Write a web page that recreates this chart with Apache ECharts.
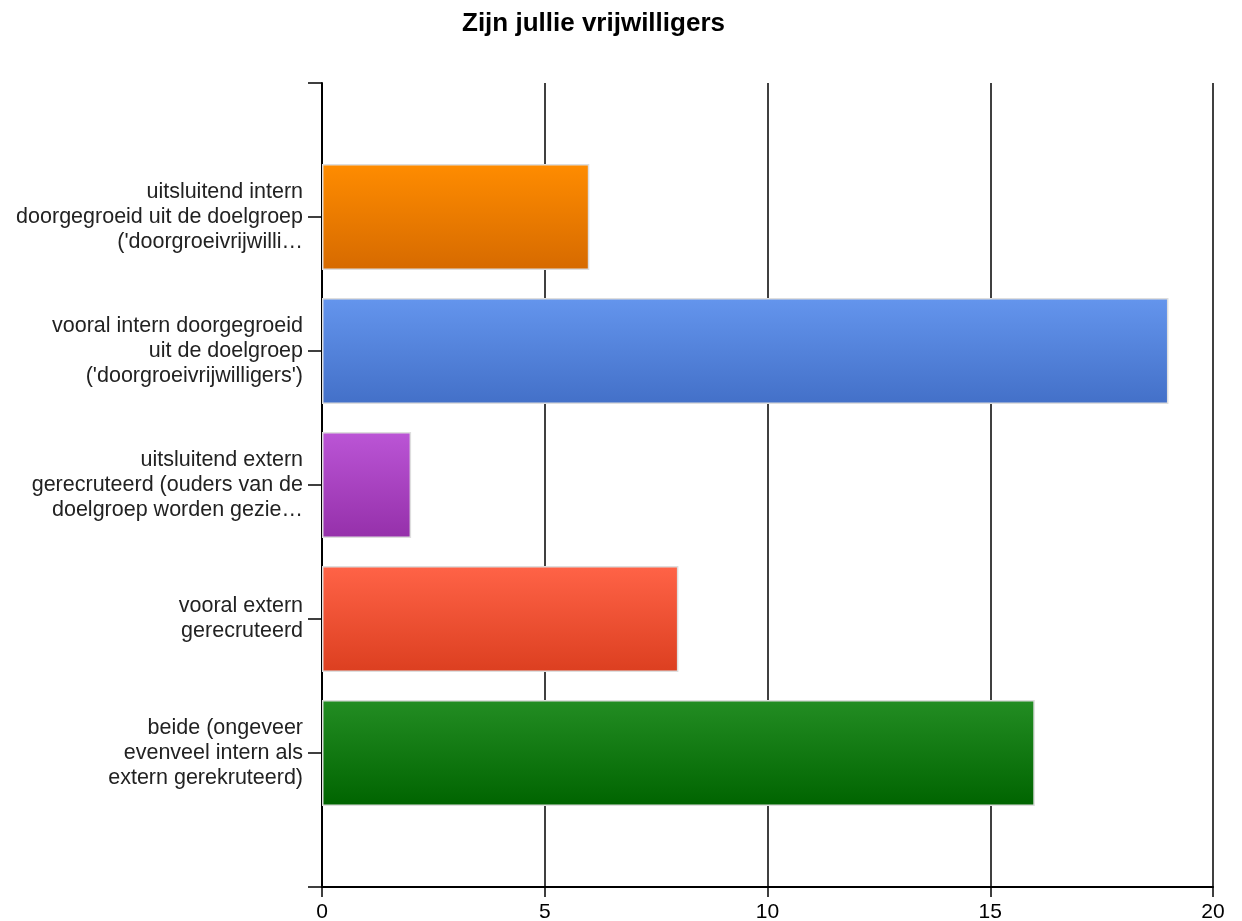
<!DOCTYPE html>
<html>
<head>
<meta charset="utf-8">
<title>Zijn jullie vrijwilligers</title>
<script src="https://cdn.jsdelivr.net/npm/echarts@6/dist/echarts.min.js"></script>
<style>
    html, body { margin: 0; padding: 0; background: #fff; }
    #chart { width: 1242px; height: 921px; }
</style>
</head>
<body>
<div id="chart"></div>
<script>
const chartTitle = 'Zijn jullie vrijwilligers';

// categorieën (lege plekken boven en onder, zoals in het origineel)
const categories = [
    '',
    "uitsluitend intern\ndoorgegroeid uit de doelgroep\n('doorgroeivrijwilli…",
    "vooral intern doorgegroeid\nuit de doelgroep\n('doorgroeivrijwilligers')",
    'uitsluitend extern\ngerecruteerd (ouders van de\ndoelgroep worden gezie…',
    'vooral extern\ngerecruteerd',
    'beide (ongeveer\nevenveel intern als\nextern gerekruteerd)',
    ''
];
const values = ['-', 6, 19, 2, 8, 16, '-'];

const xTicks = { min: 0, max: 20, interval: 5 };

// kleurverloop per balk: [boven, onder]
const barColors = [
    null,
    ['#ff8c00', '#d66a00'],
    ['#6495ed', '#4370c8'],
    ['#bb55d6', '#9530aa'],
    ['#ff6347', '#dc3f20'],
    ['#238d23', '#006400'],
    null
];

function gradient(pair) {
    return {
        type: 'linear', x: 0, y: 0, x2: 0, y2: 1,
        colorStops: [{ offset: 0, color: pair[0] }, { offset: 1, color: pair[1] }]
    };
}

function initChart() {
    const chart = echarts.init(document.getElementById('chart'));
    const data = values.map((v, i) => {
        if (!barColors[i]) return v;
        return {
            value: v,
            itemStyle: {
                color: gradient(barColors[i]),
                borderColor: '#dedede',
                borderWidth: 1.5
            }
        };
    });
    chart.setOption({
        animation: false,
        textStyle: { fontFamily: 'Liberation Sans, Arial, sans-serif' },
        title: {
            text: chartTitle,
            left: 457,
            top: 6,
            textStyle: { fontSize: 26, fontWeight: 'bold', color: '#000', fontFamily: 'Liberation Sans, Arial, sans-serif' }
        },
        grid: { left: 322, right: 29, top: 83, bottom: 34, containLabel: false, outerBoundsMode: 'none' },
        xAxis: {
            type: 'value',
            min: xTicks.min,
            max: xTicks.max,
            interval: xTicks.interval,
            axisLine: { show: true, lineStyle: { color: '#000', width: 2 } },
            axisTick: { show: true, length: 10, lineStyle: { color: '#000', width: 1.5 } },
            axisLabel: { color: '#000', fontSize: 21, margin: 15 },
            splitLine: { show: true, lineStyle: { color: '#000', width: 1.5 } }
        },
        yAxis: {
            type: 'category',
            data: categories,
            inverse: true,
            boundaryGap: false,
            axisLine: { show: true, onZero: false, lineStyle: { color: '#000', width: 2 } },
            axisTick: { show: true, length: 14, lineStyle: { color: '#000', width: 1.5 } },
            axisLabel: {
                color: '#222',
                fontSize: 21.5,
                lineHeight: 25,
                margin: 19,
                align: 'right'
            },
            splitLine: { show: false }
        },
        series: [{
            type: 'bar',
            data,
            barWidth: 106,
            z: 3
        }]
    });
}

window.addEventListener('DOMContentLoaded', initChart);
</script>
</body>
</html>
